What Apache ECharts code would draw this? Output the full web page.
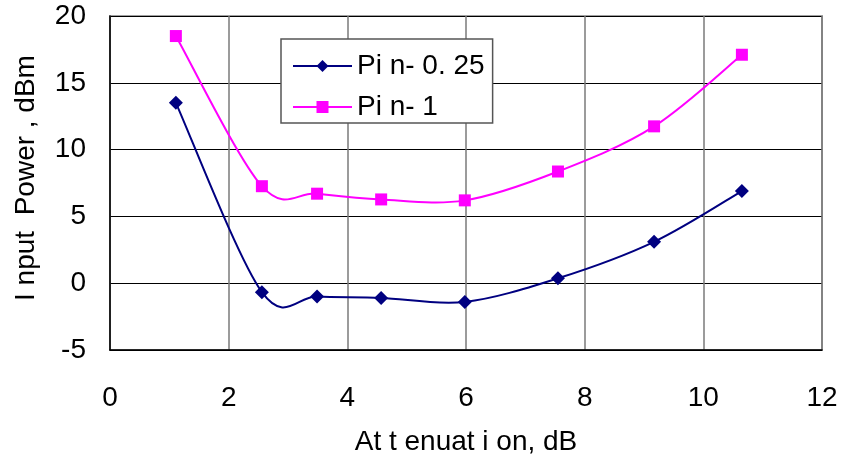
<!DOCTYPE html>
<html>
<head>
<meta charset="utf-8">
<script src="https://cdn.jsdelivr.net/npm/echarts@6/dist/echarts.min.js"></script>
<style>
html,body{margin:0;padding:0;background:#fff;}
#chart{width:846px;height:461px;}
</style>
</head>
<body>
<div id="chart"></div>
<script>
const seriesNames = ['Pi n- 0. 25', 'Pi n- 1'];
const attenuation = [1.11, 2.56, 3.49, 4.57, 5.98, 7.55, 9.17, 10.65];
const pin025 = [13.5, -0.67, -1.0, -1.1, -1.4, 0.37, 3.1, 6.9];
const pin1 = [18.5, 7.26, 6.7, 6.27, 6.2, 8.36, 11.74, 17.1];
const xTitle = 'At t enuat i on, dB';
const yTitle = 'I nput  Power , dBm';

const colors = ['#000080', '#ff00ff'];
const font = 'Liberation Sans, Arial, sans-serif';
const chart = echarts.init(document.getElementById('chart'), null, {renderer: 'canvas'});
const pairs = (xs, ys) => xs.map((x, i) => [x, ys[i]]);

// Excel-like smoothed curve: Catmull-Rom segments drawn through the axis scales
function smoothRenderer(xs, ys, color) {
  return function (params, api) {
    const i = params.dataIndex;
    const n = xs.length;
    if (i >= n - 1) return null;
    const P = k => api.coord([xs[Math.max(0, Math.min(n - 1, k))], ys[Math.max(0, Math.min(n - 1, k))]]);
    const p0 = P(i - 1), p1 = P(i), p2 = P(i + 1), p3 = P(i + 2);
    const t = 1 / 6;
    return {
      type: 'bezierCurve',
      shape: {
        x1: p1[0], y1: p1[1], x2: p2[0], y2: p2[1],
        cpx1: p1[0] + (p2[0] - p0[0]) * t, cpy1: p1[1] + (p2[1] - p0[1]) * t,
        cpx2: p2[0] - (p3[0] - p1[0]) * t, cpy2: p2[1] - (p3[1] - p1[1]) * t
      },
      style: {stroke: color, lineWidth: 2, fill: null}
    };
  };
}

chart.setOption({
  animation: false,
  backgroundColor: '#ffffff',
  grid: {left: 110, top: 16, right: 24, bottom: 110, show: true, borderColor: '#a0a0a0', borderWidth: 2, backgroundColor: 'transparent'},
  legend: {
    orient: 'vertical',
    left: 281, top: 39,
    padding: [12, 8, 1, 11],
    itemWidth: 59, itemHeight: 15, itemGap: 11,
    backgroundColor: '#ffffff',
    borderColor: '#555555', borderWidth: 1.5, borderRadius: 0,
    textStyle: {fontFamily: font, fontSize: 28, color: '#000', lineHeight: 30},
    data: seriesNames.map(nm => ({name: nm, lineStyle: {opacity: 1, width: 2}}))
  },
  xAxis: {
    type: 'value', min: 0, max: 12, interval: 2,
    name: xTitle, nameLocation: 'middle', nameGap: 78,
    nameTextStyle: {fontFamily: font, fontSize: 28, color: '#000'},
    axisLine: {show: true, onZero: false, lineStyle: {color: '#000', width: 1.5}},
    axisTick: {show: false},
    axisLabel: {fontFamily: font, fontSize: 28, color: '#000', margin: 34},
    splitLine: {show: true, lineStyle: {color: '#7a7a7a', width: 1.5}}
  },
  yAxis: {
    type: 'value', min: -5, max: 20, interval: 5,
    name: yTitle, nameLocation: 'middle', nameGap: 70, nameRotate: 90,
    nameTextStyle: {fontFamily: font, fontSize: 28, color: '#000', padding: [0, 0, 0, 10]},
    axisLine: {show: true, onZero: false, lineStyle: {color: '#000', width: 1.5}},
    axisTick: {show: false},
    axisLabel: {fontFamily: font, fontSize: 28, color: '#000', margin: 24},
    splitLine: {show: true, lineStyle: {color: '#000', width: 1}}
  },
  series: [
    {
      name: 'curve-0', type: 'custom', data: pairs(attenuation, pin025),
      renderItem: smoothRenderer(attenuation, pin025, colors[0]), clip: false, z: 2,
      silent: true
    },
    {
      name: 'curve-1', type: 'custom', data: pairs(attenuation, pin1),
      renderItem: smoothRenderer(attenuation, pin1, colors[1]), clip: false, z: 2,
      silent: true
    },
    {
      name: seriesNames[0], type: 'line', data: pairs(attenuation, pin025),
      symbol: 'diamond', symbolSize: 14, z: 3,
      lineStyle: {color: colors[0], width: 2, opacity: 0},
      itemStyle: {color: colors[0]}
    },
    {
      name: seriesNames[1], type: 'line', data: pairs(attenuation, pin1),
      symbol: 'rect', symbolSize: 12, z: 3,
      lineStyle: {color: colors[1], width: 2, opacity: 0},
      itemStyle: {color: colors[1]}
    }
  ]
});
</script>
</body>
</html>
